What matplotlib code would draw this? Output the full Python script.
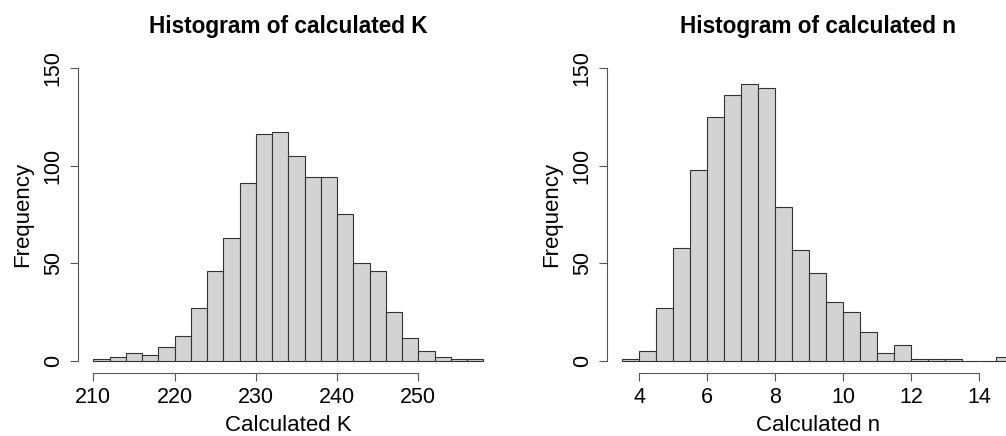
import matplotlib
matplotlib.use("Agg")
import matplotlib.pyplot as plt
import numpy as np

plt.rcParams['font.family'] = ['Liberation Sans', 'DejaVu Sans']

# histogram of K: bins of width 2 from 210 to 258
k_breaks = np.arange(210, 260, 2)
k_counts = [1, 2, 4, 3, 7, 13, 27, 46, 63, 91, 116, 117,
            105, 94, 94, 75, 50, 46, 25, 12, 5, 2, 1, 1]
k_ticks = [210, 220, 230, 240, 250]

# histogram of n: bins of width 0.5 from 3.5 to 15
n_breaks = np.arange(3.5, 15.01, 0.5)
n_counts = [1, 5, 27, 58, 98, 125, 136, 142, 140, 79, 57, 45,
            30, 25, 15, 4, 8, 1, 1, 1, 0, 0, 2]
n_ticks = [4, 6, 8, 10, 12, 14]

freq_ticks = [0, 50, 100, 150]

W, H = 1006, 436
fig = plt.figure(figsize=(W / 100, H / 100), dpi=100)

def px(x0, y0, x1, y1):
    # figure-fraction rectangle from pixel box
    return [x0 / W, 1 - y1 / H, (x1 - x0) / W, (y1 - y0) / H]

panels = [
    (px(77.7, 56.3, 498.9, 372.7), k_breaks, k_counts, k_ticks,
     "Histogram of calculated K", "Calculated K"),
    (px(606.7, 56.3, 1029.0, 372.7), n_breaks, n_counts, n_ticks,
     "Histogram of calculated n", "Calculated n"),
]

for rect, breaks, counts, ticks, title, xlab in panels:
    ax = fig.add_axes(rect)
    ax.bar(breaks[:-1], counts, width=np.diff(breaks), align='edge',
           color='#d3d3d3', edgecolor='#333333', linewidth=0.8)
    span = breaks[-1] - breaks[0]
    ax.set_xlim(breaks[0] - 0.04 * span, breaks[-1] + 0.04 * span)
    ax.set_ylim(-6, 156)

    for s in ['top', 'right']:
        ax.spines[s].set_visible(False)
    ax.spines['left'].set_bounds(0, 150)
    ax.spines['bottom'].set_bounds(ticks[0], ticks[-1])
    for s in ['left', 'bottom']:
        ax.spines[s].set_color('#555555')
        ax.spines[s].set_linewidth(0.8)

    ax.set_xticks(ticks)
    ax.set_yticks(freq_ticks)
    ax.tick_params(direction='out', length=5.8, width=0.8, color='#555555',
                   labelsize=15.5)
    ax.tick_params(axis='x', pad=4.5)
    ax.tick_params(axis='y', pad=4.3, labelrotation=90)
    for lab in ax.get_yticklabels():
        lab.set_va('center')

    x0, y0, w, h = rect
    xc = x0 + w / 2
    fig.text(xc, 1 - 33 / H, title, ha='center', va='baseline',
             fontsize=16.3, fontweight='bold')
    fig.text(xc, 1 - 431 / H, xlab, ha='center', va='baseline', fontsize=16)
    fig.text(x0 - 65.5 / W, y0 + h / 2, "Frequency", rotation=90,
             ha='left', va='center', fontsize=16)

fig.savefig("out.png", dpi=100)
